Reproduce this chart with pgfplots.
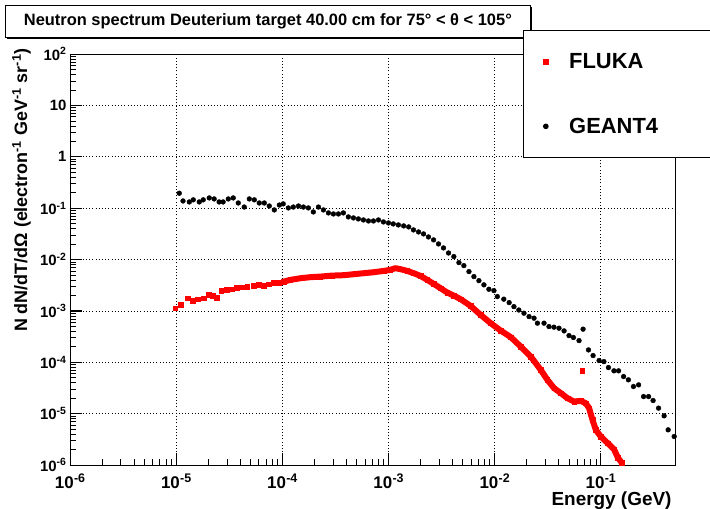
\documentclass[border=0pt]{standalone}
\usepackage{pgfplots}
\pgfplotsset{compat=1.18}
\usepackage{fontspec}
\setmainfont{Liberation Sans}
% ROOT-like superscripts for the tick labels
\newcommand\xsup[1]{\raisebox{6.5bp}{\fontsize{12.5}{12}\selectfont\kern0.3bp#1}}

\begin{document}
\begin{tikzpicture}
  \useasboundingbox (0,0) rectangle (710bp,-509bp);
  % title pave (ROOT style, with shadow)
  \fill[black] (7bp,-7bp) rectangle (532bp,-39bp);
  \node[draw=black, fill=white, line width=0.8bp, anchor=north west,
        minimum width=525bp, minimum height=32bp, inner sep=0pt,
        font=\bfseries\fontsize{16.5}{18}\selectfont] at (5bp,-5bp)
    {Neutron spectrum Deuterium target 40.00 cm for 75° < θ < 105°};
  \begin{axis}[
    at={(70bp,-465bp)}, anchor=south west,
    scale only axis, width=605bp, height=411bp,
    xmode=log, ymode=log,
    xmin=1e-6, xmax=0.5,
    ymin=1e-6, ymax=100,
    axis line style={black, line width=0.8bp},
    tick pos=left,
    tick style={black, line width=0.6bp},
    major tick length=12bp, minor tick length=6bp,
    grid=major,
    major grid style={black, line width=0.7bp, dash pattern=on 1bp off 2.2bp},
    xtick={1e-6,1e-5,1e-4,1e-3,1e-2,1e-1},
    xticklabels={10\xsup{-6},10\xsup{-5},10\xsup{-4},
                 10\xsup{-3},10\xsup{-2},10\xsup{-1}},
    ytick={1e-6,1e-5,1e-4,1e-3,1e-2,1e-1,1,10,100},
    yticklabels={10\textsuperscript{-6},10\textsuperscript{-5},10\textsuperscript{-4},
                 10\textsuperscript{-3},10\textsuperscript{-2},10\textsuperscript{-1},
                 1,10,10\textsuperscript{2}},
    xticklabel style={font=\bfseries\fontsize{17}{20}\selectfont, yshift=-5bp},
    yticklabel style={font=\bfseries\fontsize{15}{18}\selectfont},
    xlabel={Energy (GeV)},
    ylabel={N dN/dT/dΩ (electron\textsuperscript{-1} GeV\textsuperscript{-1} sr\textsuperscript{-1})},
    xlabel style={at={(axis description cs:1,-0.086)}, anchor=east,
                  font=\bfseries\fontsize{19}{22}\selectfont},
    ylabel style={at={(axis description cs:-0.08,1.022)}, anchor=east,
                  font=\bfseries\fontsize{18}{21}\selectfont},
    legend cell align=left,
    legend style={at={(axis description cs:0.7488,1.0584)}, anchor=north west,
                  draw=black, fill=white, line width=0.8bp,
                  font=\bfseries\fontsize{22}{26}\selectfont,
                  row sep=44bp, inner ysep=21bp, inner xsep=20bp,
                  /tikz/every odd column/.append style={column sep=19bp},
                  /tikz/every even column/.append style={text width=130bp}},
  ]
    % y-axis ticks (ROOT style, inside the frame)
    \pgfplotsinvokeforeach{1e-5,1e-4,1e-3,1e-2,1e-1,1,10}{
      \draw[black, line width=0.8bp] (axis cs:1e-6,#1) -- ([xshift=12bp]axis cs:1e-6,#1);
    }
    \pgfplotsinvokeforeach{2e-6,3e-6,4e-6,5e-6,6e-6,7e-6,8e-6,9e-6,
                 2e-5,3e-5,4e-5,5e-5,6e-5,7e-5,8e-5,9e-5,
                 2e-4,3e-4,4e-4,5e-4,6e-4,7e-4,8e-4,9e-4,
                 2e-3,3e-3,4e-3,5e-3,6e-3,7e-3,8e-3,9e-3,
                 2e-2,3e-2,4e-2,5e-2,6e-2,7e-2,8e-2,9e-2,
                 0.2,0.3,0.4,0.5,0.6,0.7,0.8,0.9,
                 2,3,4,5,6,7,8,9,
                 20,30,40,50,60,70,80,90}{
      \draw[black, line width=0.6bp] (axis cs:1e-6,#1) -- ([xshift=6bp]axis cs:1e-6,#1);
    }
    % FLUKA
    \addplot[only marks, mark=square*, mark size=2.3bp, red, mark options={draw=red, fill=red}]
      coordinates {
      (9.79e-6,1.13e-3) (1.11e-5,1.31e-3) (1.28e-5,1.77e-3) (1.43e-5,1.58e-3)
      (1.60e-5,1.69e-3) (1.81e-5,1.77e-3) (2.02e-5,2.05e-3) (2.22e-5,1.96e-3)
      (2.42e-5,1.82e-3) (2.66e-5,2.48e-3) (3.01e-5,2.56e-3) (3.35e-5,2.64e-3)
      (3.74e-5,2.80e-3) (4.17e-5,2.89e-3) (4.65e-5,2.97e-3) (5.36e-5,3.11e-3)
      (5.97e-5,3.21e-3) (6.66e-5,3.06e-3) (7.43e-5,3.30e-3) (8.28e-5,3.56e-3)
      (9.23e-5,3.56e-3) (1.03e-4,3.72e-3) (1.19e-4,4.01e-3) (1.48e-4,4.32e-3)
      (1.84e-4,4.53e-3) (2.28e-4,4.65e-3) (2.94e-4,4.86e-3) (3.79e-4,4.95e-3)
      (4.71e-4,5.18e-3) (5.85e-4,5.41e-3) (7.27e-4,5.66e-3) (9.03e-4,6.00e-3)
      (1.04e-3,6.28e-3) (1.16e-3,6.78e-3) (1.30e-3,6.48e-3) (1.50e-3,6.00e-3)
      (1.73e-3,5.41e-3) (2.00e-3,4.80e-3) (2.32e-3,4.01e-3) (2.67e-3,3.35e-3)
      (3.09e-3,2.77e-3) (3.58e-3,2.27e-3) (4.13e-3,1.98e-3) (4.78e-3,1.69e-3)
      (5.94e-3,1.25e-3) (7.38e-3,8.36e-4) (9.17e-3,5.77e-4) (1.14e-2,4.14e-4)
      (1.42e-2,3.08e-4) (1.76e-2,2.02e-4) (2.19e-2,1.29e-4) (2.72e-2,7.11e-5)
      (3.14e-2,4.55e-5) (3.63e-2,3.13e-5) (4.20e-2,2.51e-5) (4.85e-2,2.00e-5)
      (5.60e-2,1.72e-5) (6.47e-2,1.77e-5) (7.21e-2,1.60e-5) (7.76e-2,1.28e-5)
      (8.35e-2,7.57e-6) (8.97e-2,4.84e-6) (1.00e-1,3.58e-6) (1.16e-1,2.67e-6)
      (1.34e-1,1.98e-6) (1.45e-1,1.38e-6) (1.58e-1,1.10e-6)
      (6.71e-2,6.81e-5)
    };
    \addlegendentry{FLUKA}
    % GEANT4
    \addplot[only marks, mark=*, mark size=2.4bp, black]
      coordinates {
      (1.07e-5,0.195) (1.16e-5,0.138) (1.33e-5,0.132) (1.45e-5,0.145)
      (1.65e-5,0.132) (1.80e-5,0.145) (2.05e-5,0.158) (2.28e-5,0.151)
      (2.54e-5,0.132) (2.77e-5,0.132) (3.10e-5,0.151) (3.45e-5,0.158)
      (3.85e-5,0.126) (4.38e-5,0.105) (4.89e-5,0.151) (5.45e-5,0.145)
      (6.07e-5,0.126) (6.77e-5,0.126) (7.54e-5,0.110) (8.41e-5,0.0923)
      (9.38e-5,0.115) (1.02e-4,0.121) (1.14e-4,0.101) (1.27e-4,0.105)
      (1.42e-4,0.110) (1.58e-4,0.105) (1.76e-4,0.101) (1.96e-4,0.0843)
      (2.19e-4,0.105) (2.44e-4,0.0923) (2.72e-4,0.0807) (3.03e-4,0.0771)
      (3.38e-4,0.0771) (3.76e-4,0.0807) (4.19e-4,0.0675) (4.68e-4,0.0645)
      (5.21e-4,0.0617) (5.81e-4,0.0589) (6.48e-4,0.0563) (7.22e-4,0.0563)
      (8.05e-4,0.0589) (8.97e-4,0.0539) (1.00e-3,0.0515) (1.11e-3,0.0493)
      (1.24e-3,0.0471) (1.39e-3,0.0451) (1.55e-3,0.0431) (1.72e-3,0.0377)
      (1.92e-3,0.0344) (2.14e-3,0.0315) (2.38e-3,0.0275) (2.66e-3,0.0241)
      (2.96e-3,0.0201) (3.30e-3,0.0168) (3.68e-3,0.0134) (4.13e-3,1.14e-2)
      (4.61e-3,8.71e-3) (5.13e-3,7.61e-3) (5.73e-3,5.82e-3) (6.38e-3,4.65e-3)
      (7.11e-3,3.88e-3) (7.93e-3,3.21e-3) (8.83e-3,2.64e-3) (9.85e-3,2.48e-3)
      (1.06e-2,1.90e-3) (1.22e-2,1.69e-3) (1.37e-2,1.45e-3) (1.52e-2,1.21e-3)
      (1.69e-2,1.04e-3) (1.89e-2,9.02e-4) (2.11e-2,7.74e-4) (2.35e-2,7.21e-4)
      (2.53e-2,5.77e-4) (2.92e-2,5.77e-4) (3.25e-2,4.95e-4) (3.62e-2,4.82e-4)
      (4.04e-2,4.60e-4) (4.51e-2,4.08e-4) (5.02e-2,3.30e-4) (5.52e-2,3.03e-4)
      (6.24e-2,2.64e-4) (6.81e-2,4.41e-4) (7.66e-2,1.74e-4) (8.46e-2,1.35e-4)
      (9.64e-2,1.08e-4) (1.07e-1,1.03e-4) (1.18e-1,7.89e-5) (1.33e-1,6.81e-5)
      (1.47e-1,6.81e-5) (1.64e-1,5.27e-5) (1.82e-1,4.55e-5) (2.03e-1,3.37e-5)
      (2.27e-1,3.63e-5) (2.53e-1,2.15e-5) (2.82e-1,2.15e-5) (3.11e-1,1.80e-5)
      (3.50e-1,1.28e-5) (3.95e-1,9.06e-6) (4.31e-1,4.84e-6) (4.91e-1,3.59e-6)
    };
    \addlegendentry{GEANT4}
    % FLUKA dense band (many overlapping squares in the original)
    \addplot[forget plot, red, line width=6bp, line join=round, no marks]
      coordinates {
      (1.03e-4,3.72e-3) (1.19e-4,4.01e-3) (1.48e-4,4.32e-3)
      (1.84e-4,4.53e-3) (2.28e-4,4.65e-3) (2.94e-4,4.86e-3) (3.79e-4,4.95e-3)
      (4.71e-4,5.18e-3) (5.85e-4,5.41e-3) (7.27e-4,5.66e-3) (9.03e-4,6.00e-3)
      (1.04e-3,6.28e-3) (1.16e-3,6.78e-3) (1.30e-3,6.48e-3) (1.50e-3,6.00e-3)
      (1.73e-3,5.41e-3) (2.00e-3,4.80e-3) (2.32e-3,4.01e-3) (2.67e-3,3.35e-3)
      (3.09e-3,2.77e-3) (3.58e-3,2.27e-3) (4.13e-3,1.98e-3) (4.78e-3,1.69e-3)
      (5.94e-3,1.25e-3) (7.38e-3,8.36e-4) (9.17e-3,5.77e-4) (1.14e-2,4.14e-4)
      (1.42e-2,3.08e-4) (1.76e-2,2.02e-4) (2.19e-2,1.29e-4) (2.72e-2,7.11e-5)
      (3.14e-2,4.55e-5) (3.63e-2,3.13e-5) (4.20e-2,2.51e-5) (4.85e-2,2.00e-5)
      (5.60e-2,1.72e-5) (6.47e-2,1.77e-5) (7.21e-2,1.60e-5) (7.76e-2,1.28e-5)
      (8.35e-2,7.57e-6) (8.97e-2,4.84e-6) (1.00e-1,3.58e-6) (1.16e-1,2.67e-6)
      (1.34e-1,1.98e-6) (1.45e-1,1.38e-6) (1.58e-1,1.10e-6)
    };
  \end{axis}
\end{tikzpicture}
\end{document}
